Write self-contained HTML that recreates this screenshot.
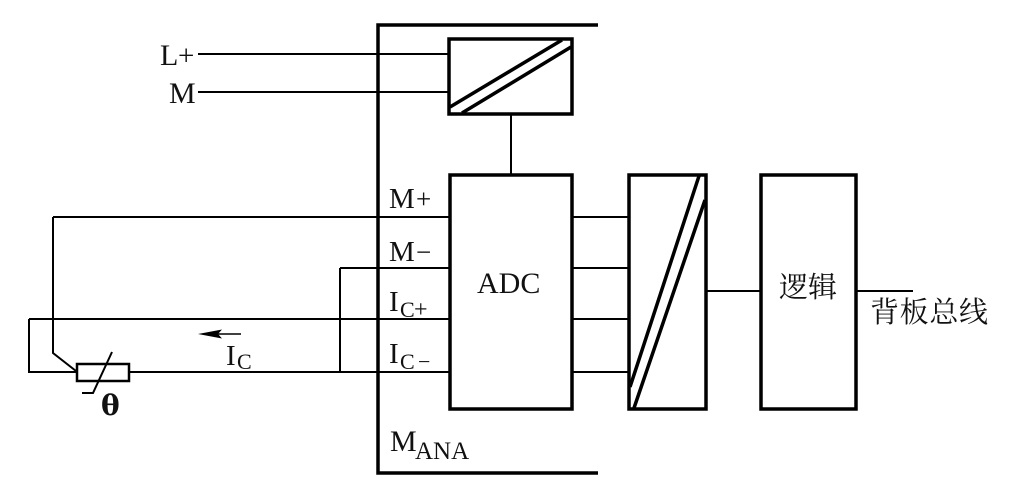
<!DOCTYPE html>
<html><head><meta charset="utf-8">
<style>
html,body{margin:0;padding:0;background:#fff;width:1019px;height:483px;overflow:hidden}
svg{display:block}
text{font-family:"Liberation Serif","Noto Serif CJK SC",serif;fill:#111;font-size:29px}
.cjk{font-family:"Liberation Serif","Noto Serif CJK SC",serif;font-size:29px}
</style></head><body>
<svg width="1019" height="483" viewBox="0 0 1019 483" xmlns="http://www.w3.org/2000/svg">
<rect width="1019" height="483" fill="#fff"/>
<g fill="none" stroke="#000" stroke-width="2">
<path d="M198 54H449M198 92H449M511 114V175"/>
<path d="M53 217H450M53 217V353L76 371"/>
<path d="M340 268H450M340 268V372"/>
<path d="M29 319H450M29 319V372H77M129 372H450"/>
<path d="M572 217H629M572 268H629M572 319H629M572 372H629"/>
<path d="M706 291H761M856 291H913"/>
<path d="M212 334H241" stroke-width="1.6"/>
</g>
<path d="M198 334L222 329.5L218 334L222 338.5Z" fill="#000"/>
<path d="M598 25H378V473H598" fill="none" stroke="#000" stroke-width="3.5"/>
<g fill="#fff" stroke="#000" stroke-width="3.5">
<rect x="449" y="39" width="123" height="75"/>
<rect x="450" y="175" width="122" height="234"/>
<rect x="629" y="175" width="77" height="234"/>
<rect x="761" y="175" width="95" height="234"/>
</g>
<rect x="77" y="364" width="52" height="17" fill="#fff" stroke="#000" stroke-width="2.5"/>
<path d="M112 352L93 393H82" fill="none" stroke="#000" stroke-width="2"/>
<g fill="none" stroke="#000" stroke-width="3.5">
<path d="M450 107L562 40M462 113L571 47"/>
<path d="M630 387L699 176M634 408L705 200"/>
</g>
<text x="160" y="65" style="font-size:30px">L</text><text x="178" y="65" style="font-size:29px">+</text>
<text x="169" y="103" style="font-size:30px">M</text>
<text x="389" y="208">M</text><text x="416" y="208" style="font-size:27px">+</text>
<text x="389" y="261">M</text><text x="416" y="261" style="font-size:27px">−</text>
<text x="389" y="311">I</text><text x="400" y="317" style="font-size:22px">C</text><text x="414" y="317" style="font-size:24px">+</text>
<text x="389" y="363">I</text><text x="400" y="369" style="font-size:22px">C</text><text x="418" y="369" style="font-size:22px">−</text>
<text x="390" y="451" style="font-size:30px">M</text><text x="415" y="459" style="font-size:25px">ANA</text>
<text x="477" y="293" style="font-size:30px">ADC</text>
<text x="226" y="365">I</text><text x="237" y="369" style="font-size:22px">C</text>
<text x="101" y="415" style="font-size:28px;font-weight:bold;font-family:'DejaVu Serif',serif">θ</text>
<text class="cjk" x="779" y="297">逻辑</text>
<text class="cjk" x="870" y="322" textLength="118">背板总线</text>
</svg>
</body></html>
